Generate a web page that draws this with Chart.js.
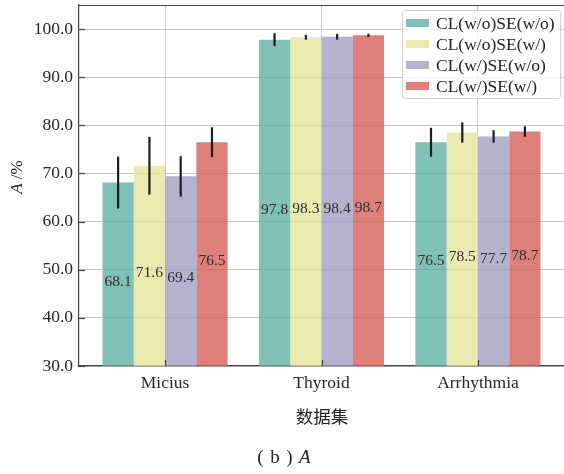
<!DOCTYPE html>
<html>
<head>
<meta charset="utf-8">
<script src="https://cdn.jsdelivr.net/npm/chart.js@4.4.1/dist/chart.umd.min.js"></script>
<style>
  html, body { margin: 0; padding: 0; background: #ffffff; }
  canvas { display: block; }
</style>
</head>
<body>
<canvas id="chart" width="564" height="474"></canvas>
<script>
// Datasets and their accuracy (%) per variant
const categories = ['Micius', 'Thyroid', 'Arrhythmia'];
const seriesNames = ['CL(w/o)SE(w/o)', 'CL(w/o)SE(w/)', 'CL(w/)SE(w/o)', 'CL(w/)SE(w/)'];
const noClNoSe = [68.1, 97.8, 76.5];
const noClSe   = [71.6, 98.3, 78.5];
const clNoSe   = [69.4, 98.4, 77.7];
const clSe     = [76.5, 98.7, 78.7];
// Half-length of each error bar (%)
const noClNoSeErr = [5.4, 1.35, 3.0];
const noClSeErr   = [6.0, 0.5, 2.1];
const clNoSeErr   = [4.2, 0.6, 1.3];
const clSeErr     = [3.1, 0.35, 1.1];
const yTicks = [30, 40, 50, 60, 70, 80, 90, 100];

const seriesValues = [noClNoSe, noClSe, clNoSe, clSe];
const seriesErrors = [noClNoSeErr, noClSeErr, clNoSeErr, clSeErr];
const seriesColors = [
  'rgba(92,174,161,0.78)',
  'rgba(228,228,154,0.78)',
  'rgba(159,156,190,0.78)',
  'rgba(213,92,85,0.78)'
];

const SERIF = '"Liberation Serif", "DejaVu Serif", serif';
const CJK = '"Noto Sans CJK SC", sans-serif';
const SPINE = '#444444';

const datasets = seriesNames.map((name, s) => ({
  label: name,
  data: seriesValues[s].map((v, i) => ({ x: i, y: v })),
  errors: seriesErrors[s],
  backgroundColor: seriesColors[s],
  borderWidth: 0,
  categoryPercentage: 0.8,
  barPercentage: 1.0
}));

// Error bars, value labels, inward ticks, top spine, legend and captions
const decorations = {
  id: 'decorations',
  afterDatasetsDraw(chart) {
    const ctx = chart.ctx;
    const area = chart.chartArea;
    const xs = chart.scales.x;
    const ys = chart.scales.y;

    // error bars
    ctx.save();
    ctx.strokeStyle = '#1e1e1e';
    ctx.lineWidth = 2.2;
    chart.data.datasets.forEach((ds, d) => {
      const meta = chart.getDatasetMeta(d);
      meta.data.forEach((bar, i) => {
        const v = ds.data[i].y, e = ds.errors[i];
        ctx.beginPath();
        ctx.moveTo(bar.x, ys.getPixelForValue(v + e));
        ctx.lineTo(bar.x, ys.getPixelForValue(v - e));
        ctx.stroke();
      });
    });
    ctx.restore();

    // value labels inside the bars
    ctx.save();
    ctx.fillStyle = '#2e2e2e';
    ctx.font = '15.5px ' + SERIF;
    ctx.textAlign = 'center';
    ctx.textBaseline = 'middle';
    chart.data.datasets.forEach((ds, d) => {
      const meta = chart.getDatasetMeta(d);
      meta.data.forEach((bar, i) => {
        const v = ds.data[i].y;
        ctx.fillText(v.toFixed(1), bar.x, ys.getPixelForValue((v + 27) / 2));
      });
    });
    ctx.restore();

    // inward tick marks and top spine
    ctx.save();
    ctx.strokeStyle = SPINE;
    ctx.lineWidth = 1.2;
    ys.ticks.forEach((t) => {
      const y = Math.round(ys.getPixelForValue(t.value)) + 0.5;
      ctx.beginPath();
      ctx.moveTo(area.left, y);
      ctx.lineTo(area.left + 6, y);
      ctx.stroke();
    });
    xs.ticks.forEach((t) => {
      const x = Math.round(xs.getPixelForValue(t.value)) + 0.5;
      ctx.beginPath();
      ctx.moveTo(x, area.bottom);
      ctx.lineTo(x, area.bottom - 6);
      ctx.stroke();
    });
    ctx.beginPath();
    ctx.moveTo(area.left, area.top + 0.5);
    ctx.lineTo(area.right, area.top + 0.5);
    ctx.stroke();
    ctx.restore();

    // legend
    ctx.save();
    const lx = 402, ly = 10, lw = 158, lh = 88;
    ctx.fillStyle = 'rgba(255,255,255,0.85)';
    ctx.strokeStyle = '#d0d0d0';
    ctx.lineWidth = 1;
    ctx.beginPath();
    ctx.roundRect(lx + 0.5, ly + 0.5, lw, lh, 3);
    ctx.fill();
    ctx.stroke();
    ctx.font = '17.5px ' + SERIF;
    ctx.textAlign = 'left';
    ctx.textBaseline = 'middle';
    chart.data.datasets.forEach((ds, d) => {
      const cy = 23 + d * 21;
      ctx.fillStyle = ds.backgroundColor;
      ctx.fillRect(406, cy - 4, 23, 8);
      ctx.fillStyle = '#222222';
      ctx.fillText(ds.label, 436, cy + 1);
    });
    ctx.restore();

    // y axis title: italic A followed by /%
    ctx.save();
    ctx.fillStyle = '#222222';
    ctx.textBaseline = 'middle';
    ctx.translate(18, 177);
    ctx.rotate(-Math.PI / 2);
    ctx.font = 'italic 17px ' + SERIF;
    const wA = ctx.measureText('A').width;
    ctx.font = '17px ' + SERIF;
    const wRest = ctx.measureText(' /%').width;
    const start = -(wA + wRest) / 2;
    ctx.textAlign = 'left';
    ctx.font = 'italic 17px ' + SERIF;
    ctx.fillText('A', start, 0);
    ctx.font = '17px ' + SERIF;
    ctx.fillText(' /%', start + wA, 0);
    ctx.restore();

    // x axis title and caption
    ctx.save();
    ctx.fillStyle = '#222222';
    ctx.textBaseline = 'middle';
    ctx.textAlign = 'center';
    ctx.font = '17.5px ' + CJK;
    ctx.fillText('数据集', 322, 416);
    // caption: ( b ) A with wide spacing
    const parts = [
      { t: '(', f: '19px ' + SERIF },
      { t: 'b', f: '19px ' + SERIF },
      { t: ')', f: '19px ' + SERIF },
      { t: 'A', f: 'italic 19px ' + SERIF }
    ];
    const gap = 6.5;
    let total = 0;
    parts.forEach((p) => { ctx.font = p.f; p.w = ctx.measureText(p.t).width; total += p.w; });
    total += gap * (parts.length - 1);
    let cx = 284 - total / 2;
    ctx.textAlign = 'left';
    parts.forEach((p) => {
      ctx.font = p.f;
      ctx.fillText(p.t, cx, 458);
      cx += p.w + gap;
    });
    ctx.restore();
  }
};

new Chart(document.getElementById('chart'), {
  type: 'bar',
  data: { datasets },
  options: {
    responsive: false,
    animation: false,
    devicePixelRatio: 1,
    layout: { padding: { left: 0, right: 0, top: 5, bottom: 0 } },
    plugins: {
      legend: { display: false },
      tooltip: { enabled: false },
      title: { display: false }
    },
    scales: {
      x: {
        type: 'linear',
        min: -0.55,
        max: 2.55,
        offset: false,
        afterBuildTicks(scale) {
          scale.ticks = categories.map((c, i) => ({ value: i }));
        },
        afterFit(scale) {
          scale.height = 108;
          scale.paddingLeft = 0;
          scale.paddingRight = 0;
        },
        ticks: {
          padding: 7,
          color: '#262626',
          font: { family: SERIF, size: 17.5 },
          maxRotation: 0,
          autoSkip: false,
          callback: (v) => categories[v] ?? ''
        },
        grid: { color: '#c4c4c4', lineWidth: 1, drawTicks: false, offset: false },
        border: { display: true, color: SPINE, width: 1.2 }
      },
      y: {
        min: 30,
        max: 105,
        afterBuildTicks(scale) {
          scale.ticks = yTicks.map((v) => ({ value: v }));
        },
        afterFit(scale) {
          scale.width = 79;
          scale.paddingTop = 0;
          scale.paddingBottom = 0;
        },
        ticks: {
          padding: 6,
          color: '#262626',
          font: { family: SERIF, size: 17.5 },
          callback: (v) => Number(v).toFixed(1)
        },
        grid: { color: '#c4c4c4', lineWidth: 1, drawTicks: false },
        border: { display: true, color: SPINE, width: 1.2 }
      }
    }
  },
  plugins: [decorations]
});
</script>
</body>
</html>
